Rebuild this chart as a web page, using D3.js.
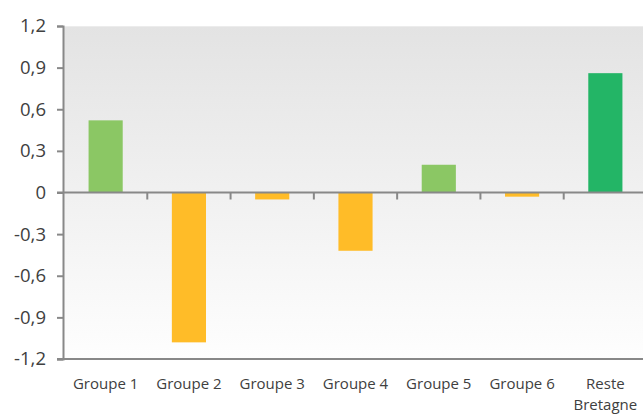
<!DOCTYPE html>
<html>
<head>
<meta charset="utf-8">
<script src="https://cdn.jsdelivr.net/npm/d3@7"></script>
<style>
  body { margin: 0; background: #fff; }
  text { font-family: "Open Sans", sans-serif; fill: #404040; }
</style>
</head>
<body>
<div id="chart"></div>
<script>
// data
const categories = ["Groupe 1", "Groupe 2", "Groupe 3", "Groupe 4", "Groupe 5", "Groupe 6", "Reste Bretagne"];
const values = [0.52, -1.08, -0.05, -0.42, 0.20, -0.03, 0.86];
const barColors = ["#8bc764", "#ffbc28", "#ffbc28", "#ffbc28", "#8bc764", "#ffbc28", "#23b566"];
const yTicks = [-1.2, -0.9, -0.6, -0.3, 0, 0.3, 0.6, 0.9, 1.2];

const width = 643;
const height = 415;
const margin = {top: 26, right: 0, bottom: 56, left: 63};

const svg = d3.select('#chart')
    .append('svg')
    .attr('width', width)
    .attr('height', height);

// background gradient of the plot area
const grad = svg.append('defs')
    .append('linearGradient')
    .attr('id', 'bg')
    .attr('x1', 0).attr('y1', 0).attr('x2', 0).attr('y2', 1);
grad.append('stop').attr('offset', '0%').attr('stop-color', '#e3e3e3');
grad.append('stop').attr('offset', '100%').attr('stop-color', '#fefefe');

const y = d3.scaleLinear()
    .domain([-1.2, 1.2])
    .range([height - margin.bottom, margin.top]);

const x = d3.scaleBand()
    .domain(categories)
    .range([64, 647])
    .paddingInner(0.59)
    .paddingOuter(0.295);

svg.append('rect')
    .attr('x', margin.left)
    .attr('y', margin.top)
    .attr('width', width - margin.left)
    .attr('height', y(-1.2) - margin.top)
    .attr('fill', 'url(#bg)');

// faint top border
svg.append('line')
    .attr('x1', margin.left).attr('x2', width)
    .attr('y1', margin.top + 0.5).attr('y2', margin.top + 0.5)
    .attr('stroke', '#ececec');

// bars
svg.selectAll('.bar')
    .data(values)
    .enter()
    .append('rect')
    .attr('class', 'bar')
    .attr('x', (d, i) => x(categories[i]))
    .attr('width', x.bandwidth())
    .attr('y', d => y(Math.max(0, d)))
    .attr('height', d => Math.abs(y(d) - y(0)))
    .attr('fill', (d, i) => barColors[i]);

// y axis, french decimal comma and plain hyphen
const fmt = d => d === 0 ? '0' : d.toFixed(1).replace('.', ',');
const yAxis = svg.append('g')
    .attr('transform', `translate(${margin.left},0)`)
    .call(d3.axisLeft(y)
        .tickValues(yTicks)
        .tickSize(6)
        .tickPadding(11)
        .tickFormat(fmt));
yAxis.select('.domain').attr('stroke', '#888').attr('stroke-width', 2);
yAxis.selectAll('.tick line').attr('stroke', '#888').attr('stroke-width', 2);
yAxis.selectAll('.tick text')
    .style('font-size', '18.5px')
    .attr('fill', '#404040');

// bottom border line
svg.append('line')
    .attr('x1', margin.left - 6).attr('x2', width)
    .attr('y1', y(-1.2)).attr('y2', y(-1.2))
    .attr('stroke', '#888').attr('stroke-width', 2);

// zero line with category separators
svg.append('line')
    .attr('x1', margin.left - 6).attr('x2', width)
    .attr('y1', y(0)).attr('y2', y(0))
    .attr('stroke', '#888').attr('stroke-width', 2);

const step = x.step();
svg.selectAll('.sep')
    .data(categories.slice(1))
    .enter()
    .append('line')
    .attr('class', 'sep')
    .attr('x1', d => x(d) - step * x.paddingInner() / 2)
    .attr('x2', d => x(d) - step * x.paddingInner() / 2)
    .attr('y1', y(0))
    .attr('y2', y(0) + 7)
    .attr('stroke', '#888')
    .attr('stroke-width', 2);

// category labels
const labels = svg.selectAll('.cat')
    .data(categories)
    .enter()
    .append('text')
    .attr('class', 'cat')
    .attr('x', d => x(d) + x.bandwidth() / 2)
    .attr('y', 389)
    .attr('text-anchor', 'middle')
    .style('font-size', '15px');

labels.each(function(d) {
    const words = d === 'Reste Bretagne' ? ['Reste', 'Bretagne'] : [d];
    d3.select(this).selectAll('tspan')
        .data(words)
        .enter()
        .append('tspan')
        .attr('x', x(d) + x.bandwidth() / 2)
        .attr('dy', (w, i) => i === 0 ? 0 : 21)
        .text(w => w);
});
</script>
</body>
</html>
